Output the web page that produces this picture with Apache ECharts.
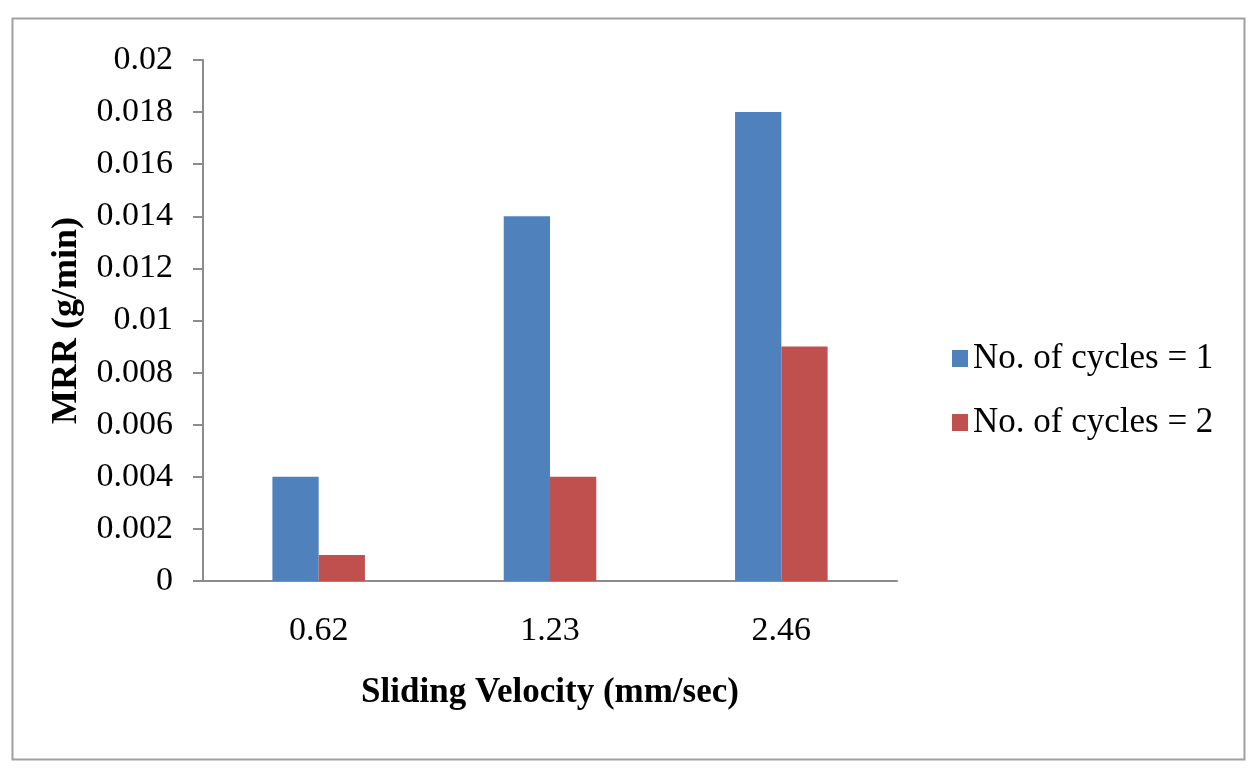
<!DOCTYPE html>
<html><head><meta charset="utf-8">
<script src="https://cdn.jsdelivr.net/npm/echarts@6/dist/echarts.min.js"></script>
<style>html,body{margin:0;padding:0;background:#fff}#c{width:1258px;height:780px}</style>
</head><body><div id="c"></div>
<script>
var categories = ['0.62', '1.23', '2.46'];
var cycles1 = [0.004, 0.014, 0.018];
var cycles2 = [0.001, 0.004, 0.009];
var seriesNames = ['No. of cycles = 1', 'No. of cycles = 2'];
var yTicks = [0, 0.002, 0.004, 0.006, 0.008, 0.01, 0.012, 0.014, 0.016, 0.018, 0.02];

var chart = echarts.init(document.getElementById('c'));
var font = '"Liberation Serif", "Times New Roman", serif';
chart.setOption({
  animation: false,
  backgroundColor: '#fff',
  graphic: [{
    type: 'rect', left: 10, top: 16,
    shape: { width: 1232, height: 741 },
    style: { fill: 'none', stroke: '#a0a0a0', lineWidth: 2 }
  }],
  grid: { left: 203, right: 361, top: 60, bottom: 199, containLabel: false },
  legend: {
    orient: 'vertical', left: 947, top: 336,
    itemWidth: 16, itemHeight: 17, itemGap: 29,
    icon: 'rect',
    textStyle: { fontFamily: font, fontSize: 35, color: '#000' },
    data: seriesNames
  },
  xAxis: {
    type: 'category', data: categories,
    name: 'Sliding Velocity (mm/sec)', nameLocation: 'middle', nameGap: 94,
    nameTextStyle: { fontFamily: font, fontSize: 35, fontWeight: 'bold', color: '#000' },
    axisLine: { lineStyle: { color: '#8c8c8c', width: 2 } },
    axisTick: { show: false },
    axisLabel: { fontFamily: font, fontSize: 34, color: '#000', margin: 33 }
  },
  yAxis: {
    type: 'value', min: 0, max: 0.02, interval: 0.002,
    name: 'MRR (g/min)', nameLocation: 'middle', nameGap: 118, nameRotate: 90,
    nameTextStyle: { fontFamily: font, fontSize: 36, fontWeight: 'bold', color: '#000' },
    axisLine: { show: true, lineStyle: { color: '#8c8c8c', width: 2 } },
    axisTick: { show: true, length: 10, lineStyle: { color: '#8c8c8c', width: 2 } },
    splitLine: { show: false },
    axisLabel: {
      fontFamily: font, fontSize: 34, color: '#000', margin: 30,
      formatter: function (v) {
        var i = yTicks.findIndex(function (t) { return Math.abs(t - v) < 1e-9; });
        return i >= 0 ? String(+yTicks[i].toFixed(3)) : '';
      }
    }
  },
  series: [
    { name: seriesNames[0], type: 'bar', data: cycles1, barGap: '0%', barCategoryGap: '60%',
      itemStyle: { color: '#4F81BD' } },
    { name: seriesNames[1], type: 'bar', data: cycles2,
      itemStyle: { color: '#C0504D' } }
  ]
});
</script></body></html>
